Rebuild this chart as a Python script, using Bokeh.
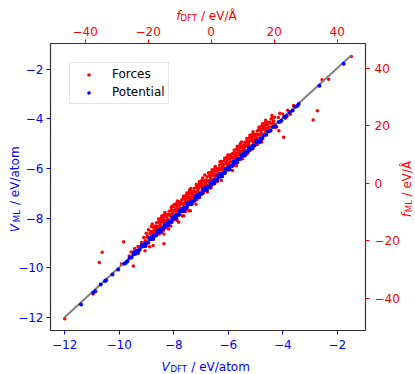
import math
from bokeh.plotting import figure
from bokeh.models import Range1d, LinearAxis, FixedTicker
from bokeh.core.properties import value
from bokeh.embed import file_html
from bokeh.resources import INLINE

# ---------------- data ----------------
# forces (eV/Å): DFT vs ML
f_dft = [
    -46.5, -37.5, -35.5, -34.6, -27.8, -28.5, -24.7, -18.4, -15.0, -10.3,
    -7.1, -13.5, -15.0, -10.8, -6.6, -8.7, -18.0, 21.8, 16.7, 17.0,
    19.9, 20.4, 21.5, 23.0, 33.7, 32.4, 26.2, 35.2, 37.3, 44.5,
    -26.0, -25.4, -24.8, -24.3, -23.9, -23.2, -22.8, -22.1, -21.6, -21.0,
    -20.9, -20.4, -19.8, -19.5, -19.3, -18.7, -18.2, -17.6, -17.1, -16.8,
    -16.0, -15.2, -14.4, -13.6, -12.8, -12.0, -11.2, -10.4, -9.6, -8.8,
    -8.0, -7.2, -6.4, -5.6, -4.8, -4.0, -3.2, -2.4, -1.6, -0.8,
    0.0, 0.8, 1.6, 2.4, 3.2, 4.0, 4.8, 5.6, 6.4, 7.2,
    8.0, 8.8, 9.6, 10.4, 11.2, 12.0, 12.8, 13.6, 14.4, 15.2, 16.0,
    -15.6, -14.8, -14.0, -13.2, -12.4, -11.6, -10.8, -10.0, -9.2, -8.4,
    -7.6, -6.8, -6.0, -5.2, -4.4, -3.6, -2.8, -2.0, -1.2, -0.4,
    0.4, 1.2, 2.0, 2.8, 3.6, 4.4, 5.2, 6.0, 6.8, 7.6,
    8.4, 9.2, 10.0, 10.8, 11.6, 12.4, 13.2, 14.0, 14.8, 15.6,
    16.6, 17.3, 17.9, 18.5, 19.0, 19.6, 20.2, 20.8, 21.4, 22.0,
    22.7, 23.5, 24.3, 25.1, 26.2,
    -21.8, -21.4, -21.0, -20.6, -20.2, -19.8, -19.4, -19.0, -18.6, -18.2,
    -17.8, -17.4, -17.0, -16.6, -16.2, -15.8, -15.4, -15.0, -14.6, -14.2,
    -13.8, -13.4, -13.0, -12.6, -12.2, -11.8, -11.4, -11.0, -10.6, -10.2,
    -9.8, -9.4, -9.0, -8.6, -8.2, -7.8, -7.4, -7.0, -6.6, -6.2,
    -5.8, -5.4, -5.0, -4.6, -4.2, -3.8, -3.4, -3.0, -2.6, -2.2,
    -1.8, -1.4, -1.0, -0.6, -0.2, 0.2, 0.6, 1.0, 1.4, 1.8,
    2.2, 2.6, 3.0, 3.4, 3.8, 4.2, 4.6, 5.0, 5.4, 5.8,
    6.2, 6.6, 7.0, 7.4, 7.8, 8.2, 8.6, 9.0, 9.4, 9.8,
    10.2, 10.6, 11.0, 11.4, 11.8, 12.2, 12.6, 13.0, 13.4, 13.8,
    14.2, 14.6, 15.0, 15.4, 15.8, 16.2, 16.6, 17.0, 17.4, 17.8,
    18.2, 18.6, 19.0, 19.4, 19.8,
    -19.9, -19.5, -19.1, -18.7, -18.3, -17.9, -17.5, -17.1, -16.7, -16.3,
    -15.9, -15.5, -15.1, -14.7, -14.3, -13.9, -13.5, -13.1, -12.7, -12.3,
    -11.9, -11.5, -11.1, -10.7, -10.3, -9.9, -9.5, -9.1, -8.7, -8.3,
    -7.9, -7.5, -7.1, -6.7, -6.3, -5.9, -5.5, -5.1, -4.7, -4.3,
    -3.9, -3.5, -3.1, -2.7, -2.3, -1.9, -1.5, -1.1, -0.7, -0.3,
    0.1, 0.5, 0.9, 1.3, 1.7, 2.1, 2.5, 2.9, 3.3, 3.7,
    4.1, 4.5, 4.9, 5.3, 5.7, 6.1, 6.5, 6.9, 7.3, 7.7,
    8.1, 8.5, 8.9, 9.3, 9.7, 10.1, 10.5, 10.9, 11.3, 11.7,
    12.1, 12.5, 12.9, 13.3, 13.7, 14.1, 14.5, 14.9, 15.3, 15.7,
    16.1, 16.5, 16.9, 17.3, 17.7, 18.1, 18.5, 18.9, 19.3, 19.7,
    -17.7, -17.3, -16.9, -16.5, -16.1, -15.7, -15.3, -14.9, -14.5, -14.1,
    -13.7, -13.3, -12.9, -12.5, -12.1, -11.7, -11.3, -10.9, -10.5, -10.1,
    -9.7, -9.3, -8.9, -8.5, -8.1, -7.7, -7.3, -6.9, -6.5, -6.1,
    -5.7, -5.3, -4.9, -4.5, -4.1, -3.7, -3.3, -2.9, -2.5, -2.1,
    -1.7, -1.3, -0.9, -0.5, -0.1, 0.3, 0.7, 1.1, 1.5, 1.9,
    2.3, 2.7, 3.1, 3.5, 3.9, 4.3, 4.7, 5.1, 5.5, 5.9,
    6.3, 6.7, 7.1, 7.5, 7.9, 8.3, 8.7, 9.1, 9.5, 9.9,
    10.3, 10.7, 11.1, 11.5, 11.9, 12.3, 12.7, 13.1, 13.5, 13.9,
    14.3, 14.7, 15.1, 15.5, 15.9, 16.3, 16.7, 17.1, 17.5, 17.9,
]
f_ml = [
    -47.0, -38.4, -27.5, -23.9, -20.3, -28.0, -28.7, -21.6, -21.0, -13.5,
    -9.5, -15.8, -17.6, -12.9, -9.5, -11.2, -15.5, 24.4, 20.6, 19.8,
    20.6, 19.4, 18.3, 16.0, 25.2, 22.0, 27.0, 36.0, 36.2, 44.1,
    -25.2, -23.8, -24.9, -22.6, -23.5, -21.9, -22.0, -20.5, -20.9, -23.4,
    -19.9, -18.6, -18.9, -22.0, -17.5, -17.8, -16.4, -17.0, -15.6, -16.1,
    -13.9, -16.4, -11.0, -12.8, -14.8, -7.8, -9.7, -11.0, -6.8, -4.9,
    -9.7, -6.2, -1.8, -5.3, -7.2, -1.5, -0.1, -3.3, 0.2, 3.6,
    -1.5, 1.4, 5.2, 4.6, 1.0, 5.3, 8.8, 5.2, 9.3, 10.5,
    6.1, 9.7, 14.4, 12.1, 10.1, 14.6, 16.5, 12.9, 15.8, 19.3, 14.4,
    -12.6, -14.4, -15.4, -10.8, -7.9, -12.4, -8.9, -6.5, -11.3, -7.7,
    -4.9, -2.5, -7.0, -4.0, -0.6, -3.9, -0.8, 2.9, -3.0, 0.1,
    3.6, 2.8, 0.7, 7.5, 5.9, 3.9, 6.3, 9.9, 4.5, 10.0,
    12.9, 9.4, 8.6, 14.2, 13.4, 11.5, 17.2, 16.6, 13.6, 18.6,
    19.8, 17.9, 21.2, 18.0, 22.4, 20.1, 23.0, 19.6, 22.9, 21.3,
    24.1, 22.6, 25.4, 24.0, 27.0,
    -20.6, -18.8, -20.6, -17.3, -18.3, -20.6, -17.2, -15.0, -17.7, -15.3,
    -16.6, -14.8, -16.6, -13.3, -14.3, -16.6, -13.2, -11.0, -13.7, -11.3,
    -12.6, -10.8, -12.6, -9.3, -10.3, -12.6, -9.2, -7.0, -9.7, -7.3,
    -8.6, -6.8, -8.6, -5.3, -6.3, -8.6, -5.2, -3.0, -5.7, -3.3,
    -4.6, -2.8, -4.6, -1.3, -2.3, -4.6, -1.2, 1.0, -1.7, 0.7,
    -0.6, 1.2, -0.6, 2.7, 1.7, -0.6, 2.8, 5.0, 2.3, 4.7,
    3.4, 5.2, 3.4, 6.7, 5.7, 3.4, 6.8, 9.0, 6.3, 8.7,
    7.4, 9.2, 7.4, 10.7, 9.7, 7.4, 10.8, 13.0, 10.3, 12.7,
    11.4, 13.2, 11.4, 14.7, 13.7, 11.4, 14.8, 17.0, 14.3, 16.7,
    15.4, 17.2, 15.4, 18.7, 17.7, 15.4, 18.8, 21.0, 18.3, 20.7,
    19.4, 21.2, 19.4, 22.7, 21.7,
    -16.1, -19.4, -16.7, -14.1, -16.8, -14.9, -17.8, -15.1, -12.4, -15.2,
    -12.1, -15.4, -12.7, -10.1, -12.8, -10.9, -13.8, -11.1, -8.4, -11.2,
    -8.1, -11.4, -8.7, -6.1, -8.8, -6.9, -9.8, -7.1, -4.4, -7.2,
    -4.1, -7.4, -4.7, -2.1, -4.8, -2.9, -5.8, -3.1, -0.4, -3.2,
    -0.1, -3.4, -0.7, 1.9, -0.8, 1.1, -1.8, 0.9, 3.6, 0.8,
    3.9, 0.6, 3.3, 5.9, 3.2, 5.1, 2.2, 4.9, 7.6, 4.8,
    7.9, 4.6, 7.3, 9.9, 7.2, 9.1, 6.2, 8.9, 11.6, 8.8,
    11.9, 8.6, 11.3, 13.9, 11.2, 13.1, 10.2, 12.9, 15.6, 12.8,
    15.9, 12.6, 15.3, 17.9, 15.2, 17.1, 14.2, 16.9, 19.6, 16.8,
    19.9, 16.6, 19.3, 21.9, 19.2, 21.1, 18.2, 20.9, 23.6, 20.8,
    -17.1, -13.7, -15.2, -17.6, -13.4, -11.3, -15.0, -11.7, -13.1, -11.6,
    -13.1, -9.7, -11.2, -13.6, -9.4, -7.3, -11.0, -7.7, -9.1, -7.6,
    -9.1, -5.7, -7.2, -9.6, -5.4, -3.3, -7.0, -3.7, -5.1, -3.6,
    -5.1, -1.7, -3.2, -5.6, -1.4, 0.7, -3.0, 0.3, -1.1, 0.4,
    -1.1, 2.3, 0.8, -1.6, 2.6, 4.7, 1.0, 4.3, 2.9, 4.4,
    2.9, 6.3, 4.8, 2.4, 6.6, 8.7, 5.0, 8.3, 6.9, 8.4,
    6.9, 10.3, 8.8, 6.4, 10.6, 12.7, 9.0, 12.3, 10.9, 12.4,
    10.9, 14.3, 12.8, 10.4, 14.6, 16.7, 13.0, 16.3, 14.9, 16.4,
    14.9, 18.3, 16.8, 14.4, 18.6, 20.7, 17.0, 20.3, 18.9, 20.4,
]

# potential (eV/atom): DFT vs ML
v_dft = [
    -11.40, -10.95, -10.88, -10.68, -10.52, -10.48, -10.25, -10.04, -9.82, -9.76,
    -9.70, -9.62, -9.55, -9.47, -9.40, -9.32, -9.25, -9.18, -9.10, -9.03,
    -8.96, -8.88, -8.81, -8.74, -8.67, -8.60, -8.53, -8.46, -8.39, -8.32,
    -8.25, -8.18, -8.11, -8.04, -7.97, -7.90, -7.83, -7.76, -7.69, -7.62,
    -7.55, -7.48, -7.41, -7.34, -7.27, -7.20, -7.13, -7.06, -6.99, -6.92,
    -6.85, -6.78, -6.71, -6.64, -6.57, -6.50, -6.43, -6.36, -6.29, -6.22,
    -6.15, -6.08, -6.01, -5.94, -5.87, -5.80, -5.73, -5.66, -5.59, -5.52,
    -5.45, -5.38, -5.31, -5.24, -5.17, -5.10, -5.03, -4.96, -4.89, -4.82,
    -4.75, -4.68, -4.61, -4.54,
    -8.78, -8.64, -8.50, -8.36, -8.22, -8.08, -7.94, -7.80, -7.66, -7.52,
    -7.38, -7.24, -7.10, -6.96, -6.82, -6.68, -6.54, -6.40, -6.26, -6.12,
    -5.98, -5.84, -5.70, -5.56, -5.42, -5.28,
    -9.45, -9.31, -9.17, -9.03, -8.89, -8.75, -8.61, -8.47, -8.33, -8.19,
    -8.05, -7.91, -7.77, -7.63, -7.49, -7.35, -7.21, -7.07, -6.93, -6.79,
    -6.65, -6.51, -6.37, -6.23, -6.09, -5.95, -5.81, -5.67, -5.53, -5.39,
    -5.25, -5.11, -4.97, -4.83,
    -4.45, -4.36, -4.27, -4.15, -4.05, -3.95, -3.86, -3.75, -3.64, -3.55,
    -3.47, -3.42, -2.66, -1.77,
]
v_ml = [
    -11.47, -11.00, -10.94, -10.67, -10.53, -10.50, -10.27, -10.07, -9.83, -9.80,
    -9.73, -9.60, -9.58, -9.45, -9.43, -9.30, -9.27, -9.15, -9.13, -9.01,
    -8.99, -8.85, -8.84, -8.71, -8.70, -8.57, -8.56, -8.43, -8.42, -8.29,
    -8.28, -8.15, -8.14, -8.01, -8.00, -7.87, -7.86, -7.73, -7.72, -7.59,
    -7.58, -7.45, -7.44, -7.31, -7.30, -7.17, -7.16, -7.03, -7.02, -6.89,
    -6.88, -6.75, -6.74, -6.61, -6.60, -6.47, -6.46, -6.33, -6.32, -6.19,
    -6.18, -6.05, -6.04, -5.91, -5.90, -5.77, -5.76, -5.63, -5.62, -5.49,
    -5.48, -5.35, -5.34, -5.21, -5.20, -5.07, -5.06, -4.93, -4.92, -4.79,
    -4.78, -4.65, -4.64, -4.51,
    -8.73, -8.69, -8.45, -8.41, -8.17, -8.13, -7.89, -7.85, -7.61, -7.57,
    -7.33, -7.29, -7.05, -7.01, -6.77, -6.73, -6.49, -6.45, -6.21, -6.17,
    -5.93, -5.89, -5.65, -5.61, -5.37, -5.33,
    -9.36, -9.40, -9.08, -9.12, -8.80, -8.84, -8.52, -8.56, -8.24, -8.28,
    -7.96, -8.00, -7.68, -7.72, -7.40, -7.44, -7.12, -7.16, -6.84, -6.88,
    -6.56, -6.60, -6.28, -6.32, -6.00, -6.04, -5.72, -5.76, -5.44, -5.48,
    -5.16, -5.20, -4.88, -4.92,
    -4.47, -4.33, -4.30, -4.13, -4.08, -3.93, -3.89, -3.74, -3.67, -3.52,
    -3.49, -3.40, -2.67, -1.78,
]

v_ticks = [-12, -10, -8, -6, -4, -2]
v_tick_labels = ["\u221212", "\u221210", "\u22128", "\u22126", "\u22124", "\u22122"]
f_ticks = [-40, -20, 0, 20, 40]
f_tick_labels = ["\u221240", "\u221220", "0", "20", "40"]

BLUE = "#0000ff"
RED = "#ff0000"
FONT = "DejaVu Sans"

W, H = 415, 374
p = figure(width=W, height=H,
           x_range=Range1d(-12.52, -0.97), y_range=Range1d(-12.52, -0.97),
           output_backend="svg", toolbar_location=None,
           min_border_left=50, min_border_right=50,
           min_border_top=43, min_border_bottom=44)
p.extra_x_ranges = {"f": Range1d(-51.0, 49.0), "px": Range1d(0, W - 100)}
p.extra_y_ranges = {"f": Range1d(-51.1, 48.6), "px": Range1d(0, H - 87)}
p.xgrid.visible = False
p.ygrid.visible = False
p.outline_line_color = "#333333"
p.outline_line_width = 1.2
p.background_fill_color = "white"
p.border_fill_color = "white"

bottom_axis = p.below[0]
left_axis = p.left[0]
top_axis = LinearAxis(x_range_name="f")
right_axis = LinearAxis(y_range_name="f")
p.add_layout(top_axis, "above")
p.add_layout(right_axis, "right")

def style_axis(ax, ticks, labels, color, standoff):
    ax.ticker = FixedTicker(ticks=ticks)
    ax.major_label_overrides = {t: l for t, l in zip(ticks, labels)}
    ax.axis_line_color = None
    ax.major_tick_line_color = color
    ax.major_tick_out = 4
    ax.major_tick_in = 0
    ax.minor_tick_line_color = None
    ax.major_label_text_color = color
    ax.major_label_text_font = FONT
    ax.major_label_text_font_size = "12px"
    ax.major_label_standoff = standoff

style_axis(bottom_axis, v_ticks, v_tick_labels, BLUE, 5)
style_axis(left_axis, v_ticks, v_tick_labels, BLUE, 3)
style_axis(top_axis, f_ticks, f_tick_labels, RED, 4)
style_axis(right_axis, f_ticks, f_tick_labels, RED, 5)

# forces (red), diagonal, potential (blue)
p.scatter(f_dft, f_ml, x_range_name="f", y_range_name="f", size=3.5,
          fill_color=RED, line_color=None, legend_label="Forces")
lo, hi = min(f_dft), max(f_dft)
p.line([lo, hi], [lo, hi], x_range_name="f", y_range_name="f",
       line_color="#808080", line_width=2)
p.scatter(v_dft, v_ml, size=4, fill_color=BLUE, line_color=None,
          legend_label="Potential")

lg = p.legend[0]
lg.location = "top_left"
lg.margin = 19
lg.padding = 3
lg.spacing = 2
lg.label_height = 16
lg.glyph_height = 9
lg.glyph_width = 31
lg.label_standoff = 8
lg.label_text_font = FONT
lg.label_text_font_size = "12px"
lg.label_text_color = "black"
lg.border_line_color = "#cccccc"
lg.border_line_width = 1
lg.background_fill_alpha = 0.8

# axis titles as text pieces (frame-pixel coordinates), drawn above everything
def lab(text, x, y, color, size="12px", style="normal", angle=0.0):
    p.text(x=[x], y=[y], text=[text], x_range_name="px", y_range_name="px",
           text_font=value(FONT), text_font_size=value(size),
           text_font_style=style, text_color=color, text_align="left",
           text_baseline="alphabetic", angle=angle, level="overlay")

SP = 3.8  # width of a space at 12px
# bottom: V_DFT / eV/atom
lab("V", 111, -36.5, BLUE, style="italic")
lab("DFT", 120, -38, BLUE, size="8.5px")
lab("/ eV/atom", 137 + SP, -36.5, BLUE)
# top: f_DFT / eV/Å
lab("f", 125.7, 314.7, RED, style="italic")
lab("DFT", 130, 312.7, RED, size="8.5px")
lab("/ eV/\u00c5", 146.7 + SP, 314.7, RED)
# left: V_ML / eV/atom
lab("V", -35.5, 98.3, BLUE, style="italic", angle=math.pi / 2)
lab("ML", -33.5, 108.3, BLUE, size="8.5px", angle=math.pi / 2)
lab("/ eV/atom", -35.5, 121.7 + SP, BLUE, angle=math.pi / 2)
# right: f_ML / eV/Å
lab("f", 356, 113.3, RED, style="italic", angle=math.pi / 2)
lab("ML", 358.3, 118.3, RED, size="8.5px", angle=math.pi / 2)
lab("/ eV/\u00c5", 356, 130.3 + SP, RED, angle=math.pi / 2)

open("out.html", "w").write(file_html(p, INLINE))
